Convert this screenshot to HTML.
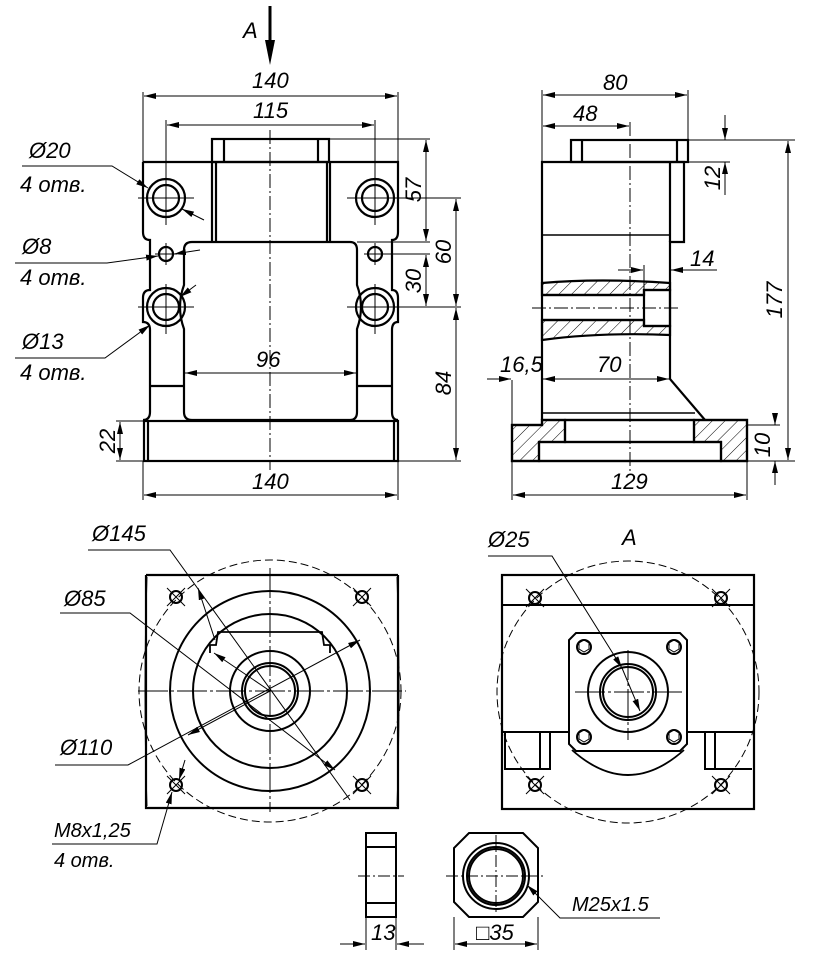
<!DOCTYPE html>
<html><head><meta charset="utf-8"><style>
html,body{margin:0;padding:0;background:#fff;}
svg{display:block;}
text{font-family:"Liberation Sans",sans-serif;font-style:italic;font-size:22px;fill:#000;}
</style></head><body>
<svg width="827" height="966" viewBox="0 0 827 966" xmlns="http://www.w3.org/2000/svg">
<defs>
<marker id="ar" viewBox="0 0 12 6" refX="12" refY="3" markerWidth="12" markerHeight="6" orient="auto-start-reverse" markerUnits="userSpaceOnUse"><path d="M0,0 L12,3 L0,6z" fill="#000"/></marker>
<pattern id="h" width="9" height="9" patternUnits="userSpaceOnUse" patternTransform="rotate(45)"><line x1="0" y1="0" x2="0" y2="9" stroke="#000" stroke-width="1"/></pattern>
</defs>
<g fill="none" stroke="#000">
<!-- A arrow -->
<line x1="270" y1="6" x2="270" y2="42" stroke-width="3"/>
<path d="M265,40 L275,40 L270,65z" fill="#000" stroke="none"/>

<!-- ===== FRONT VIEW ===== -->
<g stroke-width="2.2">
<rect x="212" y="139" width="117" height="23"/>
<line x1="224" y1="139" x2="224" y2="162"/><line x1="318" y1="139" x2="318" y2="162"/>
<path d="M143,162 H398 V232 Q398,240 392,240 V290 Q398,290 398,298 V322 Q392,322 392,330 V412 Q392,420 398,420 M143,162 V232 Q143,240 150,240 V290 Q143,290 143,298 V322 Q150,322 150,330 V412 Q150,420 143,420"/>
<line x1="212" y1="162" x2="212" y2="242"/><line x1="216" y1="162" x2="216" y2="242"/>
<line x1="327" y1="162" x2="327" y2="242"/><line x1="330" y1="162" x2="330" y2="242"/>
<path d="M192,242 H350 Q357,242 357,250 V285 Q365,307 357,329 V412 Q357,420 350,420 H192 Q184,420 184,412 V329 Q176,307 184,285 V250 Q184,242 192,242z"/>
<line x1="151" y1="386" x2="184" y2="386"/><line x1="357" y1="386" x2="391" y2="386"/>
<rect x="144" y="421" width="254" height="40"/>
<line x1="148" y1="421" x2="148" y2="461"/><line x1="394" y1="421" x2="394" y2="461"/>
<circle cx="166" cy="198" r="19"/><circle cx="166" cy="198" r="13"/>
<circle cx="375" cy="198" r="19"/><circle cx="375" cy="198" r="13"/>
<circle cx="166" cy="254" r="7"/><circle cx="375" cy="254" r="7"/>
<circle cx="166" cy="307" r="19"/><circle cx="166" cy="307" r="13"/>
<circle cx="375" cy="307" r="19"/><circle cx="375" cy="307" r="13"/>
</g>
<g stroke-width="1">
<line x1="270" y1="130" x2="270" y2="470" stroke-dasharray="14,3,2,3"/>
<line x1="138" y1="198" x2="194" y2="198"/><line x1="166" y1="175" x2="166" y2="225"/>
<line x1="347" y1="198" x2="403" y2="198"/><line x1="375" y1="175" x2="375" y2="225"/>
<line x1="155" y1="254" x2="177" y2="254"/><line x1="166" y1="243" x2="166" y2="265"/>
<line x1="364" y1="254" x2="386" y2="254"/><line x1="375" y1="243" x2="375" y2="265"/>
<line x1="138" y1="307" x2="194" y2="307"/><line x1="166" y1="284" x2="166" y2="334"/>
<line x1="347" y1="307" x2="403" y2="307"/><line x1="375" y1="284" x2="375" y2="334"/>
<!-- dims -->
<line x1="143" y1="92" x2="143" y2="162"/><line x1="398" y1="92" x2="398" y2="162"/>
<line x1="144" y1="96" x2="397" y2="96" marker-start="url(#ar)" marker-end="url(#ar)"/>
<line x1="166" y1="120" x2="166" y2="175"/><line x1="375" y1="120" x2="375" y2="175"/>
<line x1="167" y1="125" x2="374" y2="125" marker-start="url(#ar)" marker-end="url(#ar)"/>
<line x1="330" y1="139" x2="430" y2="139"/><line x1="357" y1="242" x2="430" y2="242"/>
<line x1="426" y1="140" x2="426" y2="241" marker-start="url(#ar)" marker-end="url(#ar)"/>
<line x1="386" y1="254" x2="430" y2="254"/>
<line x1="426" y1="255" x2="426" y2="306" marker-start="url(#ar)" marker-end="url(#ar)"/>
<line x1="403" y1="198" x2="461" y2="198"/><line x1="403" y1="307" x2="461" y2="307"/>
<line x1="398" y1="461" x2="461" y2="461"/>
<line x1="456" y1="199" x2="456" y2="306" marker-start="url(#ar)" marker-end="url(#ar)"/>
<line x1="456" y1="308" x2="456" y2="460" marker-start="url(#ar)" marker-end="url(#ar)"/>
<line x1="185" y1="373" x2="356" y2="373" marker-start="url(#ar)" marker-end="url(#ar)"/>
<line x1="116" y1="421" x2="144" y2="421"/><line x1="116" y1="461" x2="144" y2="461"/>
<line x1="120" y1="422" x2="120" y2="460" marker-start="url(#ar)" marker-end="url(#ar)"/>
<line x1="143" y1="461" x2="143" y2="500"/><line x1="398" y1="461" x2="398" y2="500"/>
<line x1="144" y1="495" x2="397" y2="495" marker-start="url(#ar)" marker-end="url(#ar)"/>
<!-- leaders -->
<path d="M22,166 H112 L148,188" marker-end="url(#ar)"/>
<line x1="204" y1="220" x2="182" y2="209" marker-end="url(#ar)"/>
<path d="M15,263 H107 L158,256" marker-end="url(#ar)"/>
<line x1="200" y1="250" x2="174" y2="254" marker-end="url(#ar)"/>
<path d="M15,358 H105 L150,325" marker-end="url(#ar)"/>
<line x1="196" y1="285" x2="180" y2="297" marker-end="url(#ar)"/>
</g>

<!-- ===== SIDE VIEW ===== -->
<g stroke-width="2.2">
<rect x="571" y="140" width="117" height="22"/>
<line x1="582" y1="140" x2="582" y2="162"/><line x1="677" y1="140" x2="677" y2="162"/>
<path d="M542,420 V162 H684 V242 H670 V379 L705,420"/>
<line x1="670" y1="162" x2="670" y2="242"/>
<line x1="542" y1="235" x2="670" y2="235" stroke-width="1.5"/>
<path d="M542,283 Q600,278 670,283 V290 H644 V295 H542z" fill="url(#h)"/>
<path d="M542,320 H644 V326 H670 V335 Q600,332 542,340z" fill="url(#h)"/>
<rect x="644" y="290" width="26" height="36"/>
<line x1="542" y1="295" x2="644" y2="295"/><line x1="542" y1="320" x2="644" y2="320"/>
<line x1="542" y1="413" x2="695" y2="413" stroke-width="1.5"/>
<path d="M512,425 H542 V420 H565 V442 H539 V461 H512z" fill="url(#h)"/>
<path d="M694,420 H747 V461 H721 V442 H694z" fill="url(#h)"/>
<path d="M512,425 H542 V420 H747 V461 H512z"/>
<rect x="565" y="420" width="129" height="22"/>
<rect x="539" y="442" width="182" height="19"/>
</g>
<g stroke-width="1">
<line x1="630" y1="122" x2="630" y2="475" stroke-dasharray="14,3,2,3"/>
<line x1="532" y1="308" x2="680" y2="308" stroke-dasharray="14,3,2,3"/>
<line x1="542" y1="90" x2="542" y2="162"/><line x1="688" y1="90" x2="688" y2="140"/>
<line x1="543" y1="95" x2="687" y2="95" marker-start="url(#ar)" marker-end="url(#ar)"/>
<line x1="543" y1="126" x2="629" y2="126" marker-start="url(#ar)" marker-end="url(#ar)"/>
<line x1="688" y1="140" x2="795" y2="140"/><line x1="688" y1="162" x2="730" y2="162"/>
<line x1="725" y1="115" x2="725" y2="140" marker-end="url(#ar)"/>
<line x1="725" y1="195" x2="725" y2="162" marker-end="url(#ar)"/>
<line x1="788" y1="141" x2="788" y2="460" marker-start="url(#ar)" marker-end="url(#ar)"/>
<line x1="747" y1="461" x2="795" y2="461"/>
<line x1="644" y1="265" x2="644" y2="290"/>
<line x1="618" y1="270" x2="643" y2="270" marker-end="url(#ar)"/>
<line x1="717" y1="270" x2="671" y2="270" marker-end="url(#ar)"/>
<line x1="512" y1="380" x2="512" y2="500"/>
<line x1="487" y1="379" x2="511" y2="379" marker-end="url(#ar)"/>
<line x1="543" y1="379" x2="669" y2="379" marker-start="url(#ar)" marker-end="url(#ar)"/>
<line x1="747" y1="425" x2="780" y2="425"/>
<line x1="775" y1="415" x2="775" y2="425" marker-end="url(#ar)"/>
<line x1="775" y1="485" x2="775" y2="461" marker-end="url(#ar)"/>
<line x1="747" y1="461" x2="747" y2="500"/>
<line x1="513" y1="495" x2="746" y2="495" marker-start="url(#ar)" marker-end="url(#ar)"/>
</g>

<!-- ===== BOTTOM LEFT VIEW ===== -->
<g stroke-width="2">
<path d="M146,575 H398 M146,575 V808 H398 V575" stroke-width="2.2"/>
<path d="M147,577 Q143,692 147,806 M397,577 Q401,692 397,806" stroke-width="1"/>
<circle cx="270" cy="691" r="100"/>
<circle cx="270" cy="691" r="77"/>
<circle cx="270" cy="691" r="40"/>
<circle cx="270" cy="691" r="28"/>
<circle cx="270" cy="691" r="25"/>
<path d="M210,653 V645 H216 L218,632 H322 L324,645 H330 V653" stroke-width="1.8"/>
<circle cx="176" cy="597" r="6"/><circle cx="362" cy="597" r="6"/>
<circle cx="176" cy="785" r="6"/><circle cx="362" cy="785" r="6"/>
</g>
<g stroke-width="1">
<circle cx="270" cy="691" r="131" stroke-dasharray="8,4"/>
<line x1="138" y1="691" x2="406" y2="691" stroke-dasharray="30,3,3,3"/>
<line x1="270" y1="568" x2="270" y2="812" stroke-dasharray="30,3,3,3"/>
<path d="M167,588 L185,606 M185,588 L167,606 M353,588 L371,606 M371,588 L353,606 M167,776 L185,794 M185,776 L167,794 M353,776 L371,794 M371,776 L353,794"/>
<path d="M88,550 H170 L350,800"/>
<line x1="215" y1="640" x2="198" y2="588" marker-end="url(#ar)"/>
<path d="M60,613 H130 L335,770" marker-end="url(#ar)"/>
<line x1="270" y1="691" x2="214" y2="653" marker-end="url(#ar)"/>
<path d="M55,765 H128 L360,640" marker-end="url(#ar)"/>
<line x1="270" y1="691" x2="188" y2="735" marker-end="url(#ar)"/>
<path d="M52,844 H157 L172,792" marker-end="url(#ar)"/>
<line x1="185" y1="760" x2="179" y2="780" marker-end="url(#ar)"/>
</g>

<!-- ===== VIEW A ===== -->
<g stroke-width="2">
<rect x="502" y="575" width="252" height="234" stroke-width="2.2"/>
<line x1="502" y1="605" x2="754" y2="605"/>
<path d="M502,732 H570 M687,732 H754"/>
<path d="M505,733 V769 H550 V733 M540,733 V769 M705,733 V769 H752 M715,733 V769"/>
<path d="M576,633 H680 L687,640 V744 L680,751 H576 L569,744 V640z"/>
<path d="M572,750 Q628,800 684,750" stroke-width="1.8"/>
<circle cx="628" cy="692" r="40"/>
<circle cx="628" cy="692" r="28"/>
<circle cx="628" cy="692" r="25"/>
<circle cx="584" cy="647" r="7"/><circle cx="674" cy="647" r="7"/>
<circle cx="584" cy="737" r="7"/><circle cx="674" cy="737" r="7"/>
<circle cx="535" cy="598" r="6"/><circle cx="721" cy="598" r="6"/>
<circle cx="535" cy="785" r="6"/><circle cx="721" cy="785" r="6"/>
</g>
<g stroke-width="1">
<path d="M579,643 l5,-3 5,3 v6 l-5,3 -5,-3z M669,643 l5,-3 5,3 v6 l-5,3 -5,-3z M579,733 l5,-3 5,3 v6 l-5,3 -5,-3z M669,733 l5,-3 5,3 v6 l-5,3 -5,-3z"/>
<circle cx="628" cy="692" r="131" stroke-dasharray="8,4"/>
<line x1="575" y1="692" x2="682" y2="692" stroke-dasharray="30,3,3,3"/>
<line x1="628" y1="650" x2="628" y2="740" stroke-dasharray="30,3,3,3"/>
<path d="M526,589 L544,607 M544,589 L526,607 M712,589 L730,607 M730,589 L712,607 M526,776 L544,794 M544,776 L526,794 M712,776 L730,794 M730,776 L712,794"/>
<path d="M488,556 H552 L622,668" marker-end="url(#ar)"/>
<line x1="622" y1="668" x2="640" y2="711" marker-end="url(#ar)"/>
</g>

<!-- ===== NUT ===== -->
<g stroke-width="2">
<rect x="366" y="833" width="30" height="84"/>
<line x1="366" y1="847" x2="396" y2="847"/><line x1="366" y1="903" x2="396" y2="903"/>
<path d="M469,833 H523 L538,848 V902 L523,917 H469 L454,902 V848z"/>
<circle cx="496" cy="876" r="33"/>
<circle cx="496" cy="876" r="29"/>
<circle cx="496" cy="876" r="27"/>
</g>
<g stroke-width="1">
<line x1="358" y1="876" x2="404" y2="876" stroke-dasharray="12,3,2,3"/>
<line x1="446" y1="876" x2="546" y2="876" stroke-dasharray="12,3,2,3"/>
<line x1="496" y1="835" x2="496" y2="915" stroke-dasharray="12,3,2,3"/>
<line x1="366" y1="917" x2="366" y2="950"/><line x1="396" y1="917" x2="396" y2="950"/>
<line x1="340" y1="944" x2="365" y2="944" marker-end="url(#ar)"/>
<line x1="424" y1="944" x2="397" y2="944" marker-end="url(#ar)"/>
<line x1="454" y1="917" x2="454" y2="950"/><line x1="538" y1="917" x2="538" y2="950"/>
<line x1="455" y1="944" x2="537" y2="944" marker-start="url(#ar)" marker-end="url(#ar)"/>
<path d="M660,918 H560 L527,885" marker-end="url(#ar)"/>
</g>
</g>

<!-- texts -->
<text x="243" y="38">A</text>
<text x="252" y="88">140</text>
<text x="253" y="118">115</text>
<text x="256" y="367">96</text>
<text x="252" y="489">140</text>
<text transform="translate(421,190) rotate(-90)" text-anchor="middle">57</text>
<text transform="translate(451,252) rotate(-90)" text-anchor="middle">60</text>
<text transform="translate(421,281) rotate(-90)" text-anchor="middle">30</text>
<text transform="translate(451,383) rotate(-90)" text-anchor="middle">84</text>
<text transform="translate(115,441) rotate(-90)" text-anchor="middle">22</text>
<text x="29" y="158">Ø20</text>
<text x="20" y="192">4 отв.</text>
<text x="22" y="254">Ø8</text>
<text x="20" y="285">4 отв.</text>
<text x="22" y="349">Ø13</text>
<text x="20" y="380">4 отв.</text>
<text x="603" y="90">80</text>
<text x="573" y="121">48</text>
<text x="690" y="266">14</text>
<text transform="translate(720,178) rotate(-90)" text-anchor="middle">12</text>
<text transform="translate(782,300) rotate(-90)" text-anchor="middle">177</text>
<text x="500" y="372">16,5</text>
<text x="597" y="372">70</text>
<text transform="translate(770,445) rotate(-90)" text-anchor="middle">10</text>
<text x="611" y="489">129</text>
<text x="92" y="541">Ø145</text>
<text x="64" y="606">Ø85</text>
<text x="60" y="755">Ø110</text>
<text x="54" y="837" style="font-size:20px">M8x1,25</text>
<text x="54" y="867" style="font-size:20px">4 отв.</text>
<text x="488" y="547">Ø25</text>
<text x="622" y="545">A</text>
<text x="371" y="940">13</text>
<text x="476" y="940">□35</text>
<text x="572" y="911" style="font-size:20px">M25x1.5</text>
</svg>
</body></html>
